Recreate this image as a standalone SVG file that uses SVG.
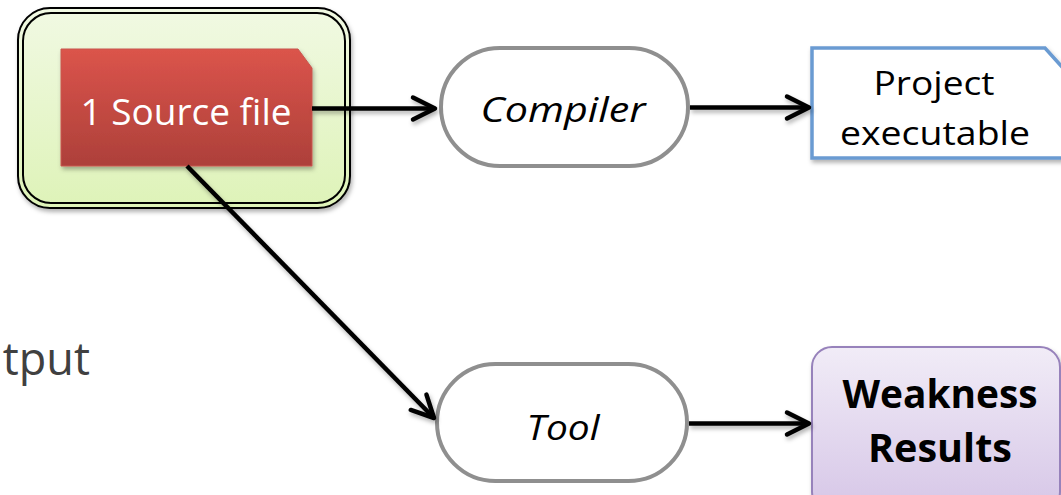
<svg xmlns="http://www.w3.org/2000/svg" width="1061" height="495" viewBox="0 0 1061 495">
  <defs>
    <linearGradient id="gGreen" x1="0" y1="0" x2="0" y2="1">
      <stop offset="0" stop-color="#f1f9e3"/>
      <stop offset="1" stop-color="#def3b8"/>
    </linearGradient>
    <linearGradient id="gRed" x1="0" y1="0" x2="0" y2="1">
      <stop offset="0" stop-color="#db544b"/>
      <stop offset="1" stop-color="#ad403a"/>
    </linearGradient>
    <linearGradient id="gPurple" x1="0" y1="0" x2="0" y2="1">
      <stop offset="0" stop-color="#f1ecf7"/>
      <stop offset="1" stop-color="#d6c6e7"/>
    </linearGradient>
    <filter id="shadow" filterUnits="userSpaceOnUse" x="0" y="0" width="1061" height="495">
      <feDropShadow dx="1.5" dy="3" stdDeviation="2" flood-color="#000" flood-opacity="0.3"/>
    </filter>
    <marker id="ah" viewBox="-4 -4 30 30" refX="22" refY="11" markerWidth="30" markerHeight="30" orient="auto" markerUnits="userSpaceOnUse">
      <path d="M0,0 L22,11 L0,22" fill="none" stroke="#000" stroke-width="4.5" stroke-linecap="round" stroke-linejoin="round"/>
    </marker>
    <style>
      .txt { font-family: "Open Sans", "Liberation Sans", sans-serif; }
      .stadium { fill: #ffffff; stroke: #8f8f8f; stroke-width: 4; }
      .conn { fill: none; stroke: #000; stroke-width: 4.5; marker-end: url(#ah); }
    </style>
  </defs>

  <text class="txt" x="90" y="375" font-size="45" fill="#404040" text-anchor="end">Output</text>

  <g id="source-container">
    <rect x="18" y="8" width="332" height="200" rx="32" fill="url(#gGreen)" stroke="#000" stroke-width="2" filter="url(#shadow)"/>
    <rect x="23" y="13" width="322" height="190" rx="28" fill="none" stroke="#000" stroke-width="2"/>
  </g>

  <g id="source-file">
    <path d="M61,49 H298 L312,68 V166 H61 Z" fill="url(#gRed)" stroke="#c9564e" stroke-width="1" filter="url(#shadow)"/>
    <text class="txt" x="186" y="125" font-size="37" fill="#ffffff" text-anchor="middle" textLength="211" lengthAdjust="spacingAndGlyphs">1 Source file</text>
  </g>

  <g id="compiler">
    <rect class="stadium" x="441" y="48" width="247" height="118" rx="59"/>
    <text class="txt" x="563" y="122" font-size="34" font-style="italic" fill="#000" text-anchor="middle" textLength="165" lengthAdjust="spacingAndGlyphs">Compiler</text>
  </g>

  <g id="project-executable">
    <path d="M812,48 H1045 L1063,68 V158 H812 Z" fill="#ffffff" stroke="#6b9bd2" stroke-width="3.5" filter="url(#shadow)"/>
    <text class="txt" x="934" y="95" font-size="33" fill="#000" text-anchor="middle" textLength="121" lengthAdjust="spacingAndGlyphs">Project</text>
    <text class="txt" x="935" y="145" font-size="33" fill="#000" text-anchor="middle" textLength="190" lengthAdjust="spacingAndGlyphs">executable</text>
  </g>

  <g id="tool">
    <rect class="stadium" x="437" y="364" width="250" height="117" rx="58.5"/>
    <text class="txt" x="563" y="440" font-size="35" font-style="italic" fill="#000" text-anchor="middle" textLength="73" lengthAdjust="spacingAndGlyphs">Tool</text>
  </g>

  <g id="weakness-results">
    <rect x="812" y="347" width="248" height="165" rx="20" fill="url(#gPurple)" stroke="#9782bb" stroke-width="2" filter="url(#shadow)"/>
    <text class="txt" x="940" y="408" font-size="40" font-weight="bold" fill="#000" text-anchor="middle" textLength="195" lengthAdjust="spacingAndGlyphs">Weakness</text>
    <text class="txt" x="940" y="462" font-size="40" font-weight="bold" fill="#000" text-anchor="middle" textLength="144" lengthAdjust="spacingAndGlyphs">Results</text>
  </g>

  <g id="connectors" filter="url(#shadow)">
    <line class="conn" x1="312" y1="108.5" x2="435" y2="108.5"/>
    <line class="conn" x1="690" y1="107.5" x2="809" y2="107.5"/>
    <line class="conn" x1="187" y1="166" x2="434" y2="418"/>
    <line class="conn" x1="689" y1="423.5" x2="809" y2="423.5"/>
  </g>
</svg>
